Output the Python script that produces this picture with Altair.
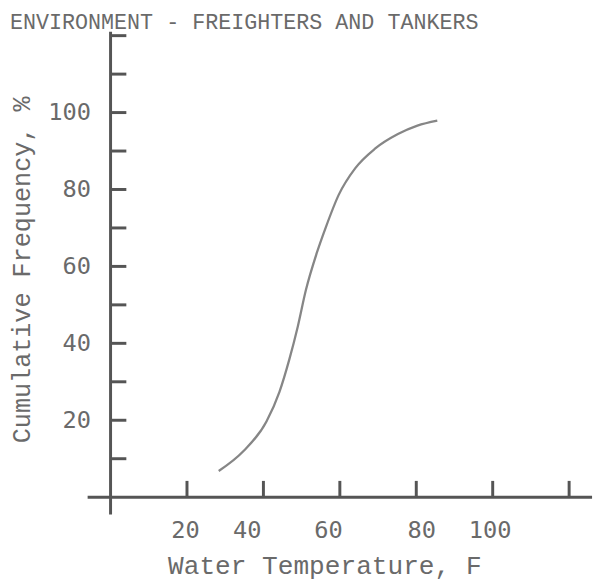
import altair as alt
import pandas as pd

# Curve (water temperature F, cumulative frequency %)
curve_x = [28.3, 34.8, 40.8, 44.2, 46.8, 49.0, 51.1, 53.9, 56.3, 59.7, 64.0, 69.2, 75.2, 80.3, 85.5]
curve_y = [6.8, 12.0, 19.7, 27.4, 35.9, 44.4, 53.8, 63.3, 70.1, 78.6, 85.5, 90.6, 94.4, 96.6, 97.9]

# Axis ticks and labels
y_tick_values = [10, 20, 30, 40, 50, 60, 70, 80, 90, 100, 110, 120]
y_label_values = [20, 40, 60, 80, 100]
x_tick_values = [20, 40, 60, 80, 100, 120]
x_label_values = [20, 40, 60, 80, 100]

title_text = "ENVIRONMENT - FREIGHTERS AND TANKERS"
x_title = "Water Temperature, F"
y_title = "Cumulative Frequency, %"

LINE = "#555555"
TEXT = "#6a6a6a"
CURVE = "#868686"

xs = alt.Scale(domain=[-6, 126], nice=False, zero=False)
ys = alt.Scale(domain=[-4.5, 121], nice=False, zero=False)

# typewritten label placement in the original is a little off the ticks
x_label_offset = {
    "condition": [
        {"test": "datum.value === 20", "value": -2},
        {"test": "datum.value === 40", "value": -17},
        {"test": "datum.value === 60", "value": -12},
        {"test": "datum.value === 80", "value": 5},
        {"test": "datum.value === 100", "value": -3},
    ],
    "value": 0,
}

x_axis = alt.Axis(
    values=x_label_values, domain=False, ticks=False, grid=False,
    labelFont="DejaVu Sans Mono", labelFontSize=24, labelColor=TEXT,
    labelPadding=34, labelBaseline="middle", offset=-17.55,
    labelOffset=x_label_offset, labelOverlap=False,
    title=x_title, titleFont="Liberation Mono", titleFontSize=26.5,
    titleFontWeight="normal", titleColor=TEXT, titleX=240, titleY=77,
    titleBaseline="alphabetic", titleAlign="center")
y_axis = alt.Axis(
    values=y_label_values, domain=False, ticks=False, grid=False,
    labelFont="DejaVu Sans Mono", labelFontSize=24, labelColor=TEXT,
    labelPadding=0, labelBaseline="middle", offset=-3,
    title=y_title, titleFont="Liberation Mono", titleFontSize=25.5,
    titleFontWeight="normal", titleColor=TEXT, titleX=-70, titleY=240.9,
    titleBaseline="middle", titleAlign="center", titleAngle=270)

curve_df = pd.DataFrame({"x": curve_x, "y": curve_y})
ytick_df = pd.DataFrame({"x": [0] * len(y_tick_values), "y": y_tick_values})
xtick_df = pd.DataFrame({"x": x_tick_values, "y": [0] * len(x_tick_values)})
zero_df = pd.DataFrame({"x": [0], "y": [0]})
title_df = pd.DataFrame({"t": [title_text]})

curve = alt.Chart(curve_df).mark_line(
    color=CURVE, strokeWidth=2.3, interpolate="monotone"
).encode(
    x=alt.X("x:Q", scale=xs, axis=x_axis),
    y=alt.Y("y:Q", scale=ys, axis=y_axis),
)

x_line = alt.Chart(zero_df).mark_rule(color=LINE, strokeWidth=3).encode(
    y=alt.Y("y:Q", scale=ys, axis=y_axis)
)
y_line = alt.Chart(zero_df).mark_rule(color=LINE, strokeWidth=3).encode(
    x=alt.X("x:Q", scale=xs, axis=x_axis)
)

y_ticks = alt.Chart(ytick_df).mark_tick(
    orient="horizontal", size=16, thickness=3, xOffset=8, color=LINE, opacity=1
).encode(
    x=alt.X("x:Q", scale=xs, axis=x_axis),
    y=alt.Y("y:Q", scale=ys, axis=y_axis),
)

x_ticks = alt.Chart(xtick_df).mark_tick(
    orient="vertical", size=17, thickness=3, yOffset=-8, color=LINE, opacity=1
).encode(
    x=alt.X("x:Q", scale=xs, axis=x_axis),
    y=alt.Y("y:Q", scale=ys, axis=y_axis),
)

# heading text of the original page (cut at the top of the scan)
heading = alt.Chart(title_df).mark_text(
    align="left", baseline="top", font="Liberation Mono",
    fontSize=22, color=TEXT,
).encode(
    text="t:N",
    x=alt.value(-78.75),
    y=alt.value(-19.6),
)

chart = alt.layer(curve, x_line, y_line, y_ticks, x_ticks, heading).properties(
    width=511.5,
    height=489.45,
    background="white",
    autosize=alt.AutoSizeParams(type="none"),
    padding={"left": 80.75, "top": 20.1, "right": 4, "bottom": 66},
).configure_view(strokeWidth=0)

chart.save("out.html", embed_options={"renderer": "svg", "actions": False})
